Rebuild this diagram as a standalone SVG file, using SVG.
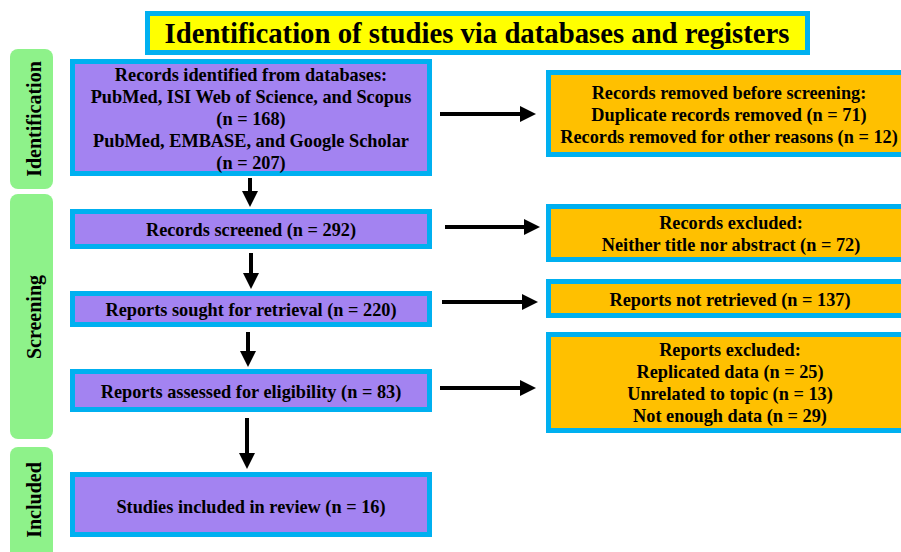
<svg xmlns="http://www.w3.org/2000/svg" width="901" height="552" viewBox="0 0 901 552">
<style>
text{font-family:"Liberation Serif","Times New Roman",serif;font-weight:bold;fill:#000;text-anchor:middle}
.t{font-size:18.3px}
.side{font-size:20px}
.pb{fill:#A383F1;stroke:#00B0F0;stroke-width:5}
.ob{fill:#FFC000;stroke:#00B0F0;stroke-width:5}
.gb{fill:#8EF28A}
.ar{stroke:#000;stroke-width:4;fill:none;marker-end:url(#ah)}
</style>
<defs>
<marker id="ah" markerUnits="userSpaceOnUse" markerWidth="16" markerHeight="16" refX="0" refY="8" orient="auto" overflow="visible">
<path d="M0,0 L16,8 L0,16 z" fill="#000"/>
</marker>
</defs>
<rect width="901" height="552" fill="#fff"/>
<g id="title">
<rect x="147.5" y="13.5" width="660" height="39" fill="#FFFF00" stroke="#00B0F0" stroke-width="5"/>
<text x="477" y="43" font-family="Liberation Serif, serif" font-size="30" textLength="625" lengthAdjust="spacingAndGlyphs">Identification of studies via databases and registers</text>
</g>
<g id="phase-identification">
<rect class="gb" x="10" y="49" width="43" height="140" rx="8"/>
<text class="side" transform="translate(41,119) rotate(-90)">Identification</text>
</g>
<g id="phase-screening">
<rect class="gb" x="10" y="194" width="43" height="245" rx="8"/>
<text class="side" transform="translate(41,317) rotate(-90)">Screening</text>
</g>
<g id="phase-included">
<rect class="gb" x="10" y="447" width="43" height="115" rx="8"/>
<text class="side" transform="translate(41,500) rotate(-90)">Included</text>
</g>
<g id="identified">
<rect class="pb" x="72.5" y="61.5" width="357" height="112"/>
<text class="t" x="251" y="81">Records identified from databases:</text>
<text class="t" x="251" y="103">PubMed, ISI Web of Science, and Scopus</text>
<text class="t" x="251" y="125">(n = 168)</text>
<text class="t" x="251" y="147">PubMed, EMBASE, and Google Scholar</text>
<text class="t" x="251" y="169">(n = 207)</text>
</g>
<g id="screened">
<rect class="pb" x="72.5" y="211.5" width="357" height="35"/>
<text class="t" x="251" y="236">Records screened (n = 292)</text>
</g>
<g id="sought">
<rect class="pb" x="72.5" y="293.5" width="357" height="31"/>
<text class="t" x="251" y="316">Reports sought for retrieval (n = 220)</text>
</g>
<g id="assessed">
<rect class="pb" x="72.5" y="371.5" width="357" height="38"/>
<text class="t" x="251" y="398">Reports assessed for eligibility (n = 83)</text>
</g>
<g id="included">
<rect class="pb" x="72.5" y="474.5" width="357" height="60"/>
<text class="t" x="251" y="513">Studies included in review (n = 16)</text>
</g>
<g id="removed">
<rect class="ob" x="548.5" y="72.5" width="361" height="82"/>
<text class="t" x="729" y="99">Records removed before screening:</text>
<text class="t" x="729" y="121">Duplicate records removed (n = 71)</text>
<text class="t" x="729" y="143">Records removed for other reasons (n = 12)</text>
</g>
<g id="excluded-records">
<rect class="ob" x="548.5" y="206.5" width="361" height="53"/>
<text class="t" x="731" y="229">Records excluded:</text>
<text class="t" x="731" y="251">Neither title nor abstract (n = 72)</text>
</g>
<g id="not-retrieved">
<rect class="ob" x="548.5" y="281.5" width="361" height="34"/>
<text class="t" x="730" y="306">Reports not retrieved (n = 137)</text>
</g>
<g id="excluded-reports">
<rect class="ob" x="548.5" y="334.5" width="361" height="96"/>
<text class="t" x="730" y="356">Reports excluded:</text>
<text class="t" x="730" y="378">Replicated data (n = 25)</text>
<text class="t" x="730" y="400">Unrelated to topic (n = 13)</text>
<text class="t" x="730" y="422">Not enough data (n = 29)</text>
</g>
<g id="connectors">
<line class="ar" x1="250" y1="178" x2="250" y2="191"/>
<line class="ar" x1="251" y1="253" x2="251" y2="273"/>
<line class="ar" x1="248" y1="332" x2="248" y2="351"/>
<line class="ar" x1="247" y1="418" x2="247" y2="453"/>
<line class="ar" x1="440" y1="114" x2="520" y2="114"/>
<line class="ar" x1="445" y1="227" x2="524" y2="227"/>
<line class="ar" x1="442" y1="302" x2="522" y2="302"/>
<line class="ar" x1="440" y1="388" x2="520" y2="388"/>
</g>
</svg>
